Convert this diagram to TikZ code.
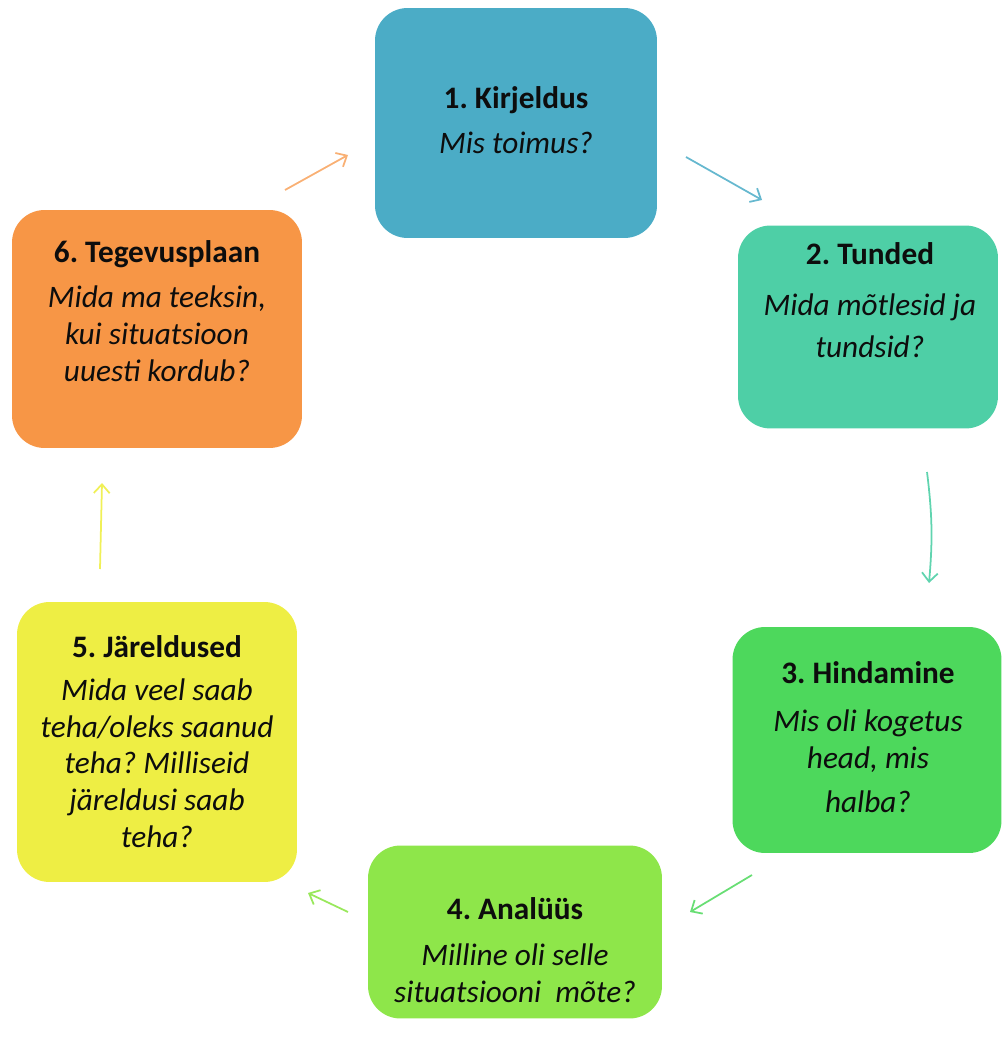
\documentclass[tikz,border=0pt]{standalone}
\usepackage{fontspec}
\setmainfont{Carlito}
\usetikzlibrary{arrows.meta}
\frenchspacing

\definecolor{kirjblue}{HTML}{4BACC6}
\definecolor{tundteal}{HTML}{4ECFA6}
\definecolor{hindgreen}{HTML}{4DD85C}
\definecolor{analime}{HTML}{8EE64A}
\definecolor{jarelyellow}{HTML}{EEEE44}
\definecolor{tegorange}{HTML}{F79646}

\begin{document}
\begin{tikzpicture}[x=0.02cm,y=-0.02cm,
        stage/.style={rectangle,rounded corners=0.65cm,inner sep=0pt,draw=none},
        stagetext/.style={align=center,text=black!95,font=\fontsize{17.8}{21}\selectfont},
        flow/.style={-{Straight Barb[length=5pt,width=9pt]},line width=1pt}]
    \useasboundingbox (0,0) rectangle (1003,1047);

    % boxes
    \node[stage,fill=kirjblue,minimum width=5.64cm,minimum height=4.6cm] (k1) at (516,123) {};
    \node[stage,fill=tundteal,minimum width=5.2cm,minimum height=4.06cm] (k2) at (868,327) {};
    \node[stage,fill=hindgreen,minimum width=5.38cm,minimum height=4.52cm] (k3) at (867,740) {};
    \node[stage,fill=analime,minimum width=5.88cm,minimum height=3.46cm] (k4) at (515,932) {};
    \node[stage,fill=jarelyellow,minimum width=5.6cm,minimum height=5.6cm] (k5) at (157,742) {};
    \node[stage,fill=tegorange,minimum width=5.8cm,minimum height=4.76cm] (k6) at (157,329) {};

    % texts
    \node[stagetext] (t1) at (516,120) {\textbf{1. Kirjeldus}\\[5pt]\textit{Mis toimus?}};
    \node[stagetext] (t2) at (870,300) {\textbf{2. Tunded}\\[8pt]\textit{Mida mõtlesid ja}\\[3pt]\textit{tundsid?}};
    \node[stagetext] (t3) at (868,737) {\textbf{3. Hindamine}\\[6pt]\textit{Mis oli kogetus}\\\textit{head, mis}\\[4pt]\textit{halba?}};
    \node[stagetext] (t4) at (515,950) {\textbf{4. Analüüs}\\[5pt]\textit{Milline oli selle}\\\textit{situatsiooni\ \ mõte?}};
    \node[stagetext] (t5) at (157,742) {\textbf{5. Järeldused}\\[3pt]\textit{Mida veel saab}\\\textit{teha/oleks saanud}\\\textit{teha? Milliseid}\\\textit{järeldusi saab}\\\textit{teha?}};
    \node[stagetext] (t6) at (157,311) {\textbf{6. Tegevusplaan}\\[5pt]\textit{Mida ma teeksin,}\\\textit{kui situatsioon}\\\textit{uuesti kordub?}};

    % arrow ends
    \coordinate (a1s) at (686,157);  \coordinate (a1e) at (762,200);
    \coordinate (a2s) at (927,472);  \coordinate (a2e) at (929,583);
    \coordinate (a3s) at (752,875);  \coordinate (a3e) at (690,912);
    \coordinate (a4s) at (348,912);  \coordinate (a4e) at (308,893);
    \coordinate (a5s) at (100,569);  \coordinate (a5e) at (102,483);
    \coordinate (a6s) at (285,190);  \coordinate (a6e) at (348,155);

    \draw[flow,draw=kirjblue!85] (a1s) -- (a1e);
    \draw[flow,draw=tundteal!90] (a2s) to[bend left=6] (a2e);
    \draw[flow,draw=hindgreen!85] (a3s) -- (a3e);
    \draw[flow,draw=analime!90] (a4s) -- (a4e);
    \draw[flow,draw=jarelyellow!90] (a5s) -- (a5e);
    \draw[flow,draw=tegorange!75] (a6s) -- (a6e);
\end{tikzpicture}
\end{document}
